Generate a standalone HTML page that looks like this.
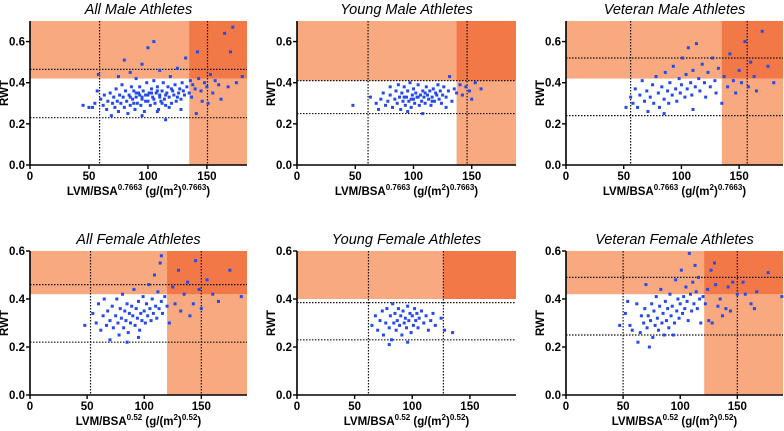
<!DOCTYPE html>
<html><head><meta charset="utf-8"><style>
body{margin:0;background:#fff;width:784px;height:431px;overflow:hidden}
svg{display:block;font-family:"Liberation Sans",Arial,sans-serif}
</style></head><body>
<svg id="c" width="784" height="431"></svg>
<script>
const titles=["All Male Athletes","Young Male Athletes","Veteran Male Athletes","All Female Athletes","Young Female Athletes","Veteran Female Athletes"];
const xTicks=[0,50,100,150];
const yTickVals=[0,0.2,0.4,0.6];
const yTickLabels=["0.0","0.2","0.4","0.6"];
const xExpTop="0.7663", xExpBottom="0.52";
const p1=[[45,.29],[50,.28],[53,.28],[55,.30],[57,.36],[58,.44],[60,.32],[62,.29],[63,.34],[65,.27],[66,.31],[68,.35],[69,.24],[70,.30],[71,.33],[72,.28],[73,.37],[74,.31],[75,.26],[76,.34],[77,.30],[78,.39],[79,.33],[80,.28],[80,.51],[81,.36],[82,.31],[83,.25],[84,.34],[85,.29],[86,.38],[87,.32],[88,.36],[89,.27],[90,.33],[90,.42],[91,.30],[92,.35],[93,.38],[94,.29],[95,.32],[95,.49],[96,.36],[97,.26],[98,.34],[99,.40],[100,.31],[100,.57],[101,.35],[102,.29],[103,.37],[104,.33],[105,.41],[105,.60],[106,.30],[107,.35],[108,.38],[109,.27],[110,.34],[110,.46],[111,.31],[112,.36],[113,.40],[114,.32],[115,.29],[116,.35],[117,.38],[118,.33],[119,.43],[120,.30],[121,.36],[122,.34],[123,.39],[124,.31],[125,.47],[126,.35],[127,.37],[128,.32],[129,.40],[130,.36],[131,.34],[132,.52],[133,.38],[135,.35],[136,.41],[137,.33],[138,.39],[140,.37],[141,.25],[142,.55],[143,.42],[145,.36],[146,.31],[148,.40],[150,.38],[151,.30],[153,.44],[155,.35],[157,.41],[160,.39],[162,.32],[165,.64],[168,.38],[170,.55],[172,.67],[175,.40],[180,.43],[115,.22],[95,.24],[85,.45],[75,.43],[108,.26],[118,.28],[128,.27],[95,.33],[100,.34],[105,.32],[110,.33],[98,.31],[103,.35],[90,.35],[112,.30],[108,.36],[115,.34],[120,.37],[125,.33],[85,.33],[88,.30],[93,.34]];
const p2=[[48,.29],[63,.33],[68,.30],[70,.27],[72,.32],[74,.35],[76,.29],[78,.31],[80,.34],[80,.38],[82,.28],[84,.32],[85,.36],[86,.30],[88,.33],[89,.27],[90,.35],[91,.31],[92,.38],[93,.29],[94,.33],[95,.36],[96,.31],[97,.40],[98,.28],[99,.34],[100,.32],[100,.37],[101,.30],[102,.35],[103,.33],[104,.39],[105,.29],[106,.34],[107,.31],[108,.36],[109,.33],[110,.30],[111,.38],[112,.34],[113,.32],[114,.36],[115,.29],[116,.33],[117,.37],[118,.31],[119,.35],[120,.34],[121,.39],[122,.32],[123,.36],[124,.30],[125,.34],[126,.38],[128,.33],[130,.36],[131,.43],[133,.31],[135,.37],[137,.35],[140,.39],[142,.34],[145,.38],[148,.36],[150,.32],[153,.40],[158,.37],[108,.25],[95,.26],[87,.39],[128,.28],[98,.32],[104,.33],[110,.35],[92,.33],[116,.31]];
const p3=[[52,.28],[56,.33],[58,.30],[60,.37],[62,.28],[64,.34],[66,.41],[68,.31],[70,.36],[71,.26],[73,.33],[75,.39],[76,.30],[78,.43],[80,.35],[81,.28],[83,.38],[85,.32],[86,.45],[88,.36],[89,.30],[90,.40],[92,.34],[93,.48],[95,.37],[96,.31],[98,.42],[99,.35],[100,.39],[101,.52],[103,.33],[104,.44],[105,.37],[106,.57],[108,.40],[109,.34],[110,.46],[112,.38],[113,.59],[115,.42],[116,.36],[118,.49],[120,.40],[121,.33],[123,.45],[125,.38],[127,.52],[129,.41],[130,.35],[132,.47],[135,.30],[137,.43],[140,.38],[142,.54],[145,.41],[147,.35],[150,.46],[152,.40],[155,.60],[158,.38],[160,.50],[163,.43],[165,.36],[170,.65],[175,.48],[180,.40],[85,.25],[110,.27]];
const p4=[[48,.29],[55,.34],[58,.30],[60,.38],[62,.27],[64,.33],[65,.40],[67,.29],[68,.35],[70,.31],[70,.23],[72,.37],[73,.28],[75,.33],[76,.40],[77,.30],[78,.25],[79,.36],[80,.32],[81,.42],[82,.28],[83,.35],[84,.31],[85,.38],[86,.26],[87,.34],[88,.30],[89,.37],[90,.33],[91,.44],[92,.29],[93,.36],[94,.32],[95,.39],[96,.27],[97,.34],[98,.31],[99,.41],[100,.35],[101,.30],[102,.38],[103,.33],[104,.46],[105,.36],[106,.31],[107,.40],[108,.34],[109,.50],[110,.37],[111,.32],[112,.43],[113,.36],[114,.55],[115,.39],[116,.34],[118,.41],[120,.37],[122,.30],[125,.45],[127,.38],[130,.52],[132,.35],[135,.42],[138,.47],[140,.33],[143,.38],[145,.56],[148,.44],[150,.36],[155,.48],[160,.42],[165,.39],[175,.52],[185,.41],[115,.58],[85,.22],[95,.24]];
const p5=[[65,.29],[68,.33],[70,.27],[72,.31],[74,.35],[75,.25],[77,.30],[78,.36],[80,.28],[81,.33],[82,.23],[83,.38],[84,.30],[85,.34],[86,.27],[87,.31],[88,.36],[89,.29],[90,.33],[91,.25],[92,.35],[93,.30],[94,.32],[95,.28],[96,.37],[97,.31],[98,.34],[99,.26],[100,.33],[101,.29],[102,.36],[103,.31],[104,.34],[105,.28],[106,.32],[108,.35],[110,.30],[112,.33],[114,.27],[116,.31],[118,.34],[120,.29],[125,.32],[128,.27],[135,.26],[80,.21],[96,.22]];
const p6=[[47,.29],[52,.34],[54,.39],[56,.29],[58,.27],[62,.38],[63,.22],[65,.26],[66,.33],[68,.30],[69,.36],[70,.46],[71,.28],[72,.33],[73,.20],[74,.31],[75,.38],[76,.24],[77,.35],[78,.29],[79,.41],[80,.32],[81,.27],[82,.37],[83,.44],[84,.30],[85,.34],[86,.25],[87,.39],[88,.31],[89,.36],[90,.28],[91,.42],[92,.33],[93,.37],[94,.25],[95,.30],[96,.48],[97,.35],[98,.40],[99,.32],[100,.38],[101,.52],[102,.34],[103,.41],[104,.36],[105,.45],[106,.39],[107,.31],[108,.59],[109,.42],[110,.35],[111,.47],[112,.38],[113,.54],[114,.43],[115,.36],[116,.49],[117,.40],[118,.30],[120,.41],[122,.38],[124,.44],[125,.31],[127,.52],[128,.30],[130,.55],[131,.46],[133,.37],[135,.40],[137,.33],[140,.36],[142,.45],[144,.35],[146,.47],[150,.42],[155,.47],[157,.42],[162,.38],[165,.36],[167,.43],[177,.51],[189,.41]];
const points=[p1,p2,p3,p4,p5,p6];
const cutX=[135,137,135,120,127,121];
const cutY=[0.42,0.41,0.42,0.42,0.40,0.42];
const refV=[[59,150.5],[61,146],[56,157],[53,150],[62,127],[50,150]];
const refH=[[0.465,0.23],[0.41,0.25],[0.52,0.24],[0.46,0.22],[0.385,0.23],[0.49,0.25]];
const xMax=[184,188,188,190,190,190];
const yMax=[0.7,0.7,0.7,0.6,0.6,0.6];

const NS="http://www.w3.org/2000/svg";
const svg=document.getElementById('c');
function mk(tag,attrs,parent,text){const e=document.createElementNS(NS,tag);for(const k in attrs)e.setAttribute(k,attrs[k]);if(text!==undefined)e.textContent=text;(parent||svg).appendChild(e);return e;}
const lefts=[30,297,566],rights=[247,516,783];
for(let i=0;i<6;i++){
  const col=i%3,row=Math.floor(i/3);
  const L=lefts[col],R=rights[col];
  const B=row===0?165:395,T=row===0?21:251;
  const sx=v=>L+(R-L)*v/xMax[i];
  const sy=v=>B-(B-T)*v/yMax[i];
  const g=mk('g',{});
  
  
  const light="#f9a97f",dark="#f37848";
  const sh1=mk('rect',{x:L,y:T,width:R-L,height:sy(cutY[i])-T,fill:light},g);
  
  
  if(i!==4){
    const sh2=mk('rect',{x:sx(cutX[i]),y:sy(cutY[i]),width:R-sx(cutX[i]),height:B-sy(cutY[i]),fill:light},g);
    
    
  }
  const sh3=mk('rect',{x:sx(cutX[i]),y:T,width:R-sx(cutX[i]),height:sy(cutY[i])-T,fill:dark},g);
  
  
  refV[i].forEach(v=>{const l=mk('line',{x1:sx(v),x2:sx(v),y1:T,y2:B,stroke:'#111','stroke-width':1.2,'stroke-dasharray':'1.5,1.5'},g);
    
    });
  refH[i].forEach(v=>{const l=mk('line',{x1:L,x2:R,y1:sy(v),y2:sy(v),stroke:'#111','stroke-width':1.2,'stroke-dasharray':'1.5,1.5'},g);
    
    });
  points[i].forEach(p=>{const c=mk('rect',{x:sx(p[0])-1.5,y:sy(p[1])-1.5,width:3,height:3,fill:'#2449ee'},g);
    
    });
  const ax=mk('path',{d:`M${L},${T} V${B} H${R}`,fill:'none',stroke:'#000','stroke-width':1.6},g);
  
  
  xTicks.forEach(v=>{mk('line',{x1:sx(v),x2:sx(v),y1:B,y2:B+4,stroke:'#000','stroke-width':1.4},g);
    const t=mk('text',{x:sx(v),y:B+15,'text-anchor':'middle','font-size':11.5,'font-weight':'bold'},g,String(v));
    
    });
  yTickVals.forEach((v,k)=>{mk('line',{x1:L-4,x2:L,y1:sy(v),y2:sy(v),stroke:'#000','stroke-width':1.4},g);
    const t=mk('text',{x:L-5,y:sy(v)+4,'text-anchor':'end','font-size':11.5,'font-weight':'bold'},g,yTickLabels[k]);
    
    });
  const tt=mk('text',{x:(L+R)/2,y:T-7,'text-anchor':'middle','font-size':14.5,'font-style':'italic'},g,titles[i]);
  
  
  const yt=mk('text',{x:0,y:0,'text-anchor':'middle','font-size':11.5,'font-weight':'bold',transform:`translate(${L-22},${(T+B)/2}) rotate(-90)`},g,'RWT');
  
  
  const e=row===0?xExpTop:xExpBottom;
  const xt=mk('text',{x:(L+R)/2,y:B+30,'text-anchor':'middle','font-size':11.5,'font-weight':'bold'},g);
  
  
  mk('tspan',{},xt,'LVM/BSA');
  mk('tspan',{'font-size':8,dy:-5},xt,e);
  mk('tspan',{dy:5},xt,' (g/(m');
  mk('tspan',{'font-size':8,dy:-5},xt,'2');
  mk('tspan',{dy:5},xt,')');
  mk('tspan',{'font-size':8,dy:-5},xt,e);
  mk('tspan',{dy:5},xt,')');
}
</script>
</body></html>
